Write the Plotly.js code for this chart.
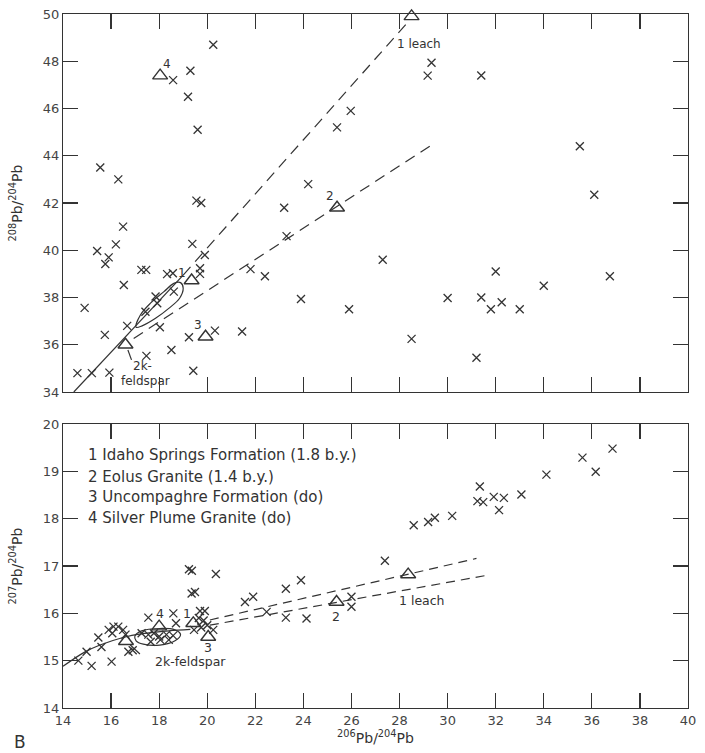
<!DOCTYPE html>
<html>
<head>
<meta charset="utf-8">
<script src="https://cdn.plot.ly/plotly-3.0.1.min.js"></script>
<style>html,body{margin:0;padding:0;background:#fff;}#chart{width:705px;height:753px;}</style>
</head>
<body>
<div id="chart"></div>
<script>
// ---------- Upper panel: 208Pb/204Pb vs 206Pb/204Pb ----------
const topSampleX = [20.25, 18.58, 19.3, 19.2, 19.6, 15.55, 16.3, 25.4, 25.97, 24.2, 29.33, 29.17, 31.4, 35.5, 36.1,
  19.55, 19.75, 23.2, 16.5, 15.42, 16.2, 15.9, 15.76, 19.38, 19.9, 19.7, 19.7, 17.26, 17.46, 18.33, 18.57,
  16.53, 18.61, 17.85, 17.92, 17.43, 16.67, 18.03, 15.74, 19.24, 20.32, 21.45, 18.51, 17.47, 19.42, 15.93,
  14.6, 15.2, 14.9, 21.8, 22.4, 23.9, 25.9, 23.3, 27.3, 28.5, 30.0, 31.4, 32.0, 31.8, 32.25, 33.0, 34.0, 31.2, 36.75];
const topSampleY = [48.7, 47.2, 47.6, 46.5, 45.1, 43.5, 43.0, 45.2, 45.9, 42.8, 47.94, 47.39, 47.4, 44.4, 42.35,
  42.1, 42.0, 41.8, 41.0, 39.97, 40.25, 39.7, 39.42, 40.27, 39.8, 39.24, 39.0, 39.17, 39.17, 38.99, 39.03,
  38.53, 38.25, 38.04, 37.76, 37.4, 36.8, 36.74, 36.42, 36.32, 36.6, 36.56, 35.78, 35.53, 34.9, 34.82,
  34.8, 34.8, 37.56, 39.2, 38.9, 37.94, 37.5, 40.6, 39.6, 36.25, 37.98, 38.0, 39.1, 37.5, 37.8, 37.5, 38.5, 35.45, 38.9];
const topRockX = [18.04, 28.5, 25.4, 19.35, 19.93, 16.6];
const topRockY = [47.39, 49.9, 41.8, 38.72, 36.34, 36.0];
const topLine1SolidX = [14.45, 19.0];
const topLine1SolidY = [34.0, 38.95];
const topLine1DashX = [19.0, 28.3];
const topLine1DashY = [38.95, 49.6];
const topLine2X = [16.94, 29.4];
const topLine2Y = [36.27, 44.5];
const topLoopX = [17.04, 17.22, 17.64, 18.2, 18.61, 18.89, 19.0, 18.85, 18.4, 17.85, 17.29, 17.04];
const topLoopY = [36.74, 37.26, 37.76, 38.25, 38.6, 38.63, 38.39, 37.97, 37.54, 37.12, 36.8, 36.74];
const topPointerX = [16.7, 16.85];
const topPointerY = [35.78, 35.36];
const topLabelText = ['4', '1 leach', '2', '1', '3', '2k-', 'feldspar'];
const topLabelX = [18.33, 28.8, 25.1, 18.96, 19.63, 17.3, 17.45];
const topLabelY = [47.9, 48.75, 42.3, 39.05, 36.85, 35.1, 34.45];

// ---------- Lower panel: 207Pb/204Pb vs 206Pb/204Pb ----------
const botSampleX = [19.35, 19.49, 19.24, 19.36, 20.36, 17.55, 18.59, 18.7,
  19.7, 19.9, 19.65, 19.85, 20.0, 19.75, 19.45, 20.25,
  14.64, 15.19, 16.02, 14.98, 15.6, 15.47, 15.9, 16.1, 16.3, 16.5, 16.05, 16.6, 16.72, 16.9,
  17.27, 17.55, 17.78, 18.0, 18.3, 18.58, 17.65, 18.05, 18.4,
  21.57, 21.91, 23.27, 23.9, 22.47, 23.27, 24.13, 26.0, 26.0, 27.39, 28.59, 29.19, 29.47, 30.19,
  31.34, 31.24, 31.48, 31.92, 32.34, 32.14, 33.07, 34.11, 35.61, 36.16, 36.86];
const botSampleY = [16.42, 16.45, 16.93, 16.9, 16.83, 15.91, 16.0, 15.79,
  16.05, 16.05, 15.9, 15.85, 15.75, 15.7, 15.65, 15.65,
  15.0, 14.89, 14.98, 15.19, 15.29, 15.49, 15.65, 15.72, 15.72, 15.65, 15.58, 15.55, 15.19, 15.22,
  15.58, 15.55, 15.58, 15.51, 15.55, 15.53, 15.4, 15.44, 15.44,
  16.24, 16.35, 16.52, 16.7, 16.03, 15.91, 15.89, 16.35, 16.14, 17.11, 17.86, 17.93, 18.02, 18.06,
  18.68, 18.37, 18.35, 18.46, 18.44, 18.18, 18.51, 18.93, 19.29, 18.99, 19.48];
const botRockX = [18.0, 19.42, 20.04, 16.62, 25.38, 28.36];
const botRockY = [15.72, 15.79, 15.5, 15.41, 16.24, 16.82];
const botCurveX = [14.0, 14.9, 15.54, 16.5, 17.3, 18.4, 19.3];
const botCurveY = [14.88, 15.18, 15.33, 15.49, 15.57, 15.63, 15.66];
const botUpperX = [20.11, 31.2];
const botUpperY = [15.86, 17.16];
const botLowerX = [20.11, 31.6];
const botLowerY = [15.75, 16.8];
const botLoopX = [16.99, 17.27, 18.03, 18.66, 18.89, 18.66, 18.03, 17.34, 17.04, 16.99];
const botLoopY = [15.52, 15.63, 15.68, 15.65, 15.55, 15.42, 15.33, 15.35, 15.42, 15.52];
const botPointerX = [16.8, 17.2];
const botPointerY = [15.33, 15.14];
const botLabelText = ['4', '1', '3', '2k-feldspar', '2', '1 leach'];
const botLabelX = [18.03, 19.14, 20.04, 19.3, 25.35, 28.93];
const botLabelY = [16.0, 16.0, 15.28, 14.99, 15.94, 16.27];
const legendText = ['1 Idaho Springs Formation (1.8 b.y.)', '2 Eolus Granite (1.4 b.y.)',
  '3 Uncompaghre Formation (do)', '4 Silver Plume Granite (do)'];
const legendY = [19.34, 18.88, 18.45, 18.01];
const legendX = 14.94;

const ink = '#333333';
const FONT = 'DejaVu Sans, sans-serif';

function marks(x, y, xa, ya) {
  return {x: x, y: y, xaxis: xa, yaxis: ya, type: 'scatter', mode: 'markers', hoverinfo: 'skip',
    marker: {symbol: 'x-thin', size: 8, line: {color: ink, width: 1.3}, color: ink}};
}
function tris(x, y, xa, ya) {
  return {x: x, y: y, xaxis: xa, yaxis: ya, type: 'scatter', mode: 'markers', hoverinfo: 'skip', cliponaxis: false,
    marker: {symbol: 'triangle-up-open', size: 13, line: {color: ink, width: 1.4}, color: ink}};
}
function line(x, y, xa, ya, dash, shape) {
  return {x: x, y: y, xaxis: xa, yaxis: ya, type: 'scatter', mode: 'lines', hoverinfo: 'skip',
    line: {color: ink, width: 1.2, dash: dash || 'solid', shape: shape || 'linear', smoothing: 1.0}};
}

const data = [
  line(topLine1SolidX, topLine1SolidY, 'x', 'y', 'solid'),
  line(topLine1DashX, topLine1DashY, 'x', 'y', '11px,7px'),
  line(topLine2X, topLine2Y, 'x', 'y', '11px,7px'),
  line(topLoopX, topLoopY, 'x', 'y', 'solid', 'spline'),
  line(topPointerX, topPointerY, 'x', 'y', 'solid'),
  marks(topSampleX, topSampleY, 'x', 'y'),
  tris(topRockX, topRockY, 'x', 'y'),
  line(botCurveX, botCurveY, 'x2', 'y2', 'solid', 'spline'),
  line(botUpperX, botUpperY, 'x2', 'y2', '9px,6px'),
  line(botLowerX, botLowerY, 'x2', 'y2', '9px,6px'),
  line(botLoopX, botLoopY, 'x2', 'y2', 'solid', 'spline'),
  line(botPointerX, botPointerY, 'x2', 'y2', 'solid'),
  marks(botSampleX, botSampleY, 'x2', 'y2'),
  tris(botRockX, botRockY, 'x2', 'y2')
];

const annotations = [];
topLabelText.forEach((t, i) => annotations.push({xref: 'x', yref: 'y', x: topLabelX[i], y: topLabelY[i], text: t,
  showarrow: false, font: {size: 12, color: ink, family: FONT}}));
botLabelText.forEach((t, i) => annotations.push({xref: 'x2', yref: 'y2', x: botLabelX[i], y: botLabelY[i], text: t,
  showarrow: false, font: {size: 12.5, color: ink, family: FONT}}));
legendText.forEach((t, i) => annotations.push({xref: 'x2', yref: 'y2', x: legendX, y: legendY[i], text: t,
  xanchor: 'left', showarrow: false, font: {size: 15, color: ink, family: FONT}}));
annotations.push({xref: 'paper', yref: 'paper', x: -0.082, y: -0.031, xanchor: 'left', yanchor: 'top', text: 'B',
  showarrow: false, font: {size: 17, color: ink, family: FONT}});

const axCommon = {showgrid: false, zeroline: false, showline: true, linecolor: ink, linewidth: 1.2,
  mirror: 'ticks', ticks: 'inside', ticklen: 15, tickwidth: 1.2, tickcolor: ink,
  tickfont: {size: 13, color: '#444', family: FONT}};

const layout = {
  width: 705, height: 753,
  margin: {l: 63, r: 17, t: 14, b: 45},
  paper_bgcolor: '#ffffff', plot_bgcolor: '#ffffff',
  showlegend: false,
  font: {family: FONT, color: ink},
  xaxis: Object.assign({}, axCommon, {domain: [0, 1], range: [14, 40], dtick: 2, anchor: 'y', showticklabels: false}),
  yaxis: Object.assign({}, axCommon, {domain: [0.4553, 1], range: [34, 50], dtick: 2, anchor: 'x',
    title: {text: '<sup>208</sup>Pb/<sup>204</sup>Pb', font: {size: 14, color: ink}, standoff: 16}}),
  xaxis2: Object.assign({}, axCommon, {domain: [0, 1], range: [14, 40], dtick: 2, anchor: 'y2',
    title: {text: '<sup>206</sup>Pb/<sup>204</sup>Pb', font: {size: 14, color: ink}, standoff: 6}}),
  yaxis2: Object.assign({}, axCommon, {domain: [0, 0.4092], range: [14, 20], dtick: 1, anchor: 'x2',
    title: {text: '<sup>207</sup>Pb/<sup>204</sup>Pb', font: {size: 14, color: ink}, standoff: 16}}),
  annotations: annotations
};

Plotly.newPlot('chart', data, layout, {displayModeBar: false, staticPlot: true});
</script>
</body>
</html>
